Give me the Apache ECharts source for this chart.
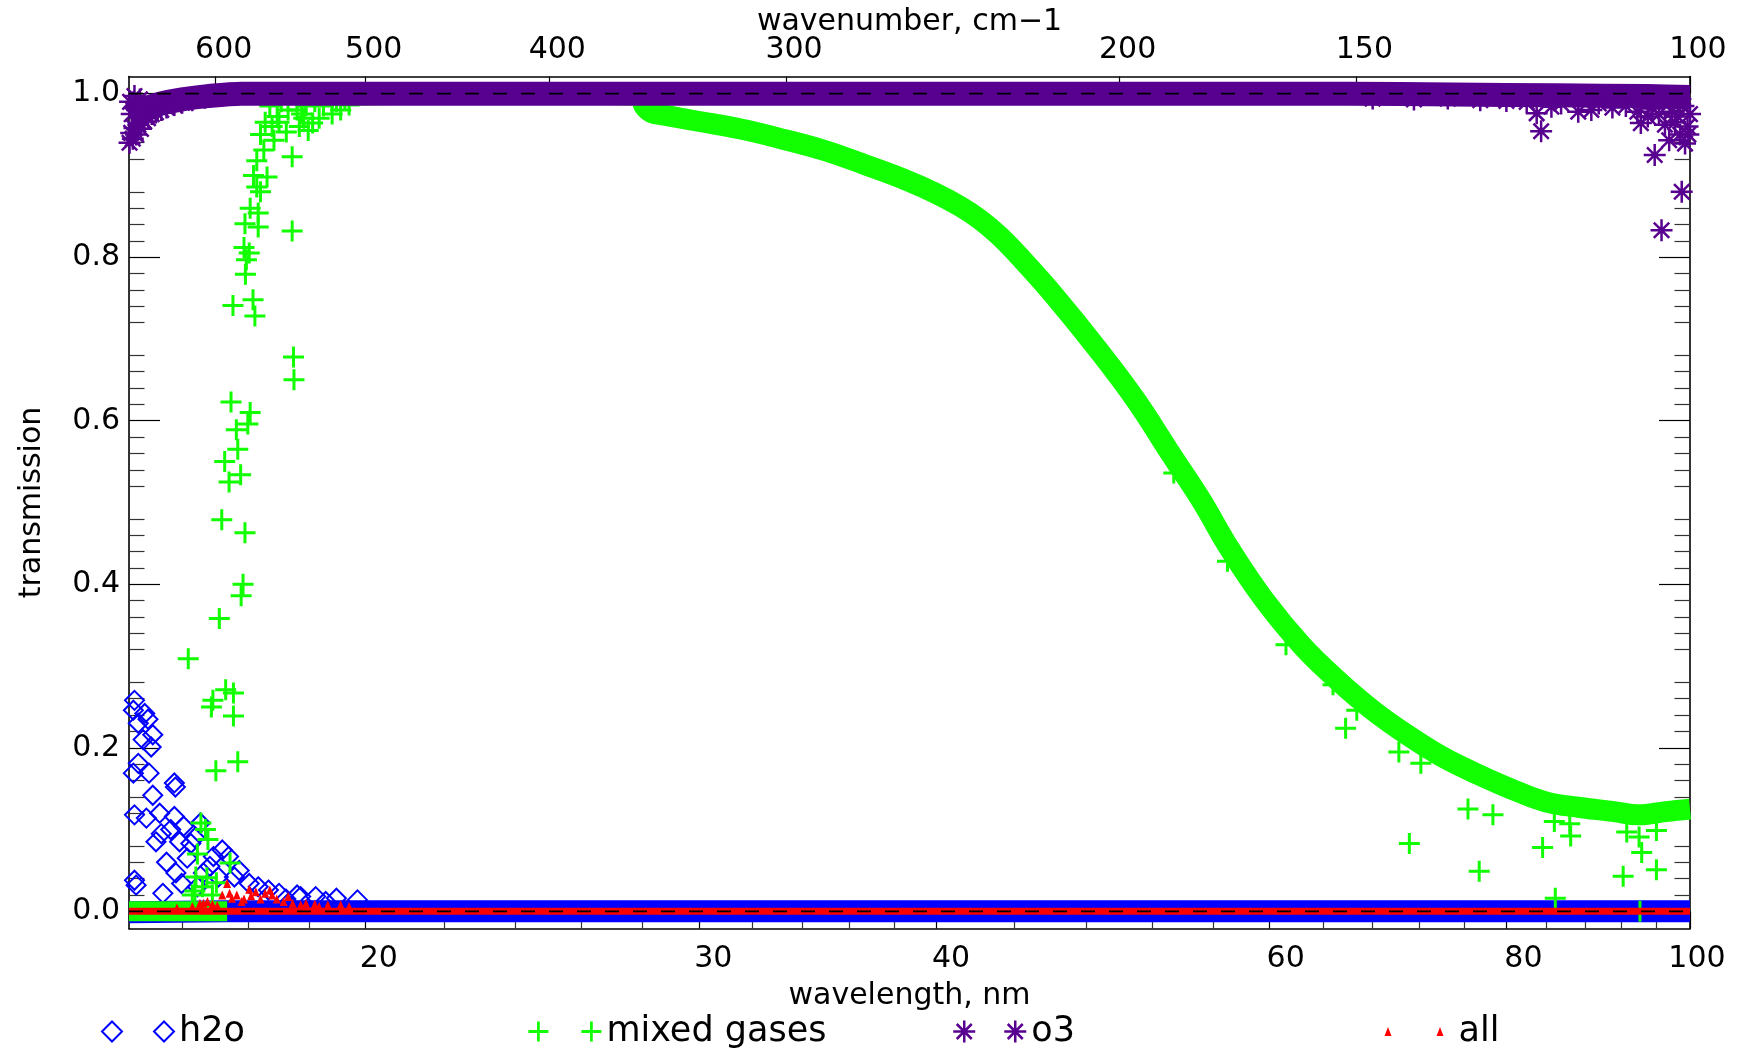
<!DOCTYPE html>
<html>
<head>
<meta charset="utf-8">
<script src="https://cdn.jsdelivr.net/npm/echarts@6/dist/echarts.min.js"></script>
<style>html,body{margin:0;padding:0;background:#fff}#chart{width:1740px;height:1055px}</style>
</head>
<body>
<div id="chart"></div>
<script>
// ---------- axis ranges and ticks ----------
const xMin = 15, xMax = 100;
const yMin = -0.021, yMax = 1.021;
const xMajorTicks = [20, 30, 40, 60, 80, 100];
const xMinorTicks = [16, 17.333, 18.667, 22, 24, 26, 28, 32, 34, 36, 38, 44, 48, 52, 56, 64, 68, 72, 76, 84, 88, 92, 96];
const wavenumberTicks = [600, 500, 400, 300, 200, 150, 100];
const yMajorTicks = [0, 0.2, 0.4, 0.6, 0.8, 1.0];
const yMinorTicks = [0.02,0.04,0.06,0.08,0.12,0.14,0.16,0.18,0.22,0.24,0.26,0.28,0.32,0.34,0.36,0.38,
  0.42,0.44,0.46,0.48,0.52,0.54,0.56,0.58,0.62,0.64,0.66,0.68,0.72,0.74,0.76,0.78,0.82,0.84,0.86,0.88,
  0.92,0.94,0.96,0.98];
const refLevels = [0, 1];

// ---------- data: [wavelength, transmission] ----------
const h2oBand = [[15.0, -0.001], [16.9, 0.0], [20, 0.0], [40, 0.0], [70, 0.0], [100, 0.0]];
const h2oPoints = [
  [15.10,0.258],[15.08,0.246],[15.29,0.242],[15.17,0.230],[15.35,0.235],[15.44,0.216],[15.26,0.210],
  [15.41,0.201],[15.17,0.181],[15.08,0.169],[15.37,0.169],[15.85,0.157],[15.87,0.152],[15.44,0.142],
  [15.10,0.118],[15.32,0.114],[15.57,0.120],[15.85,0.116],[15.78,0.100],[16.03,0.104],[15.50,0.085],
  [16.17,0.083],[16.36,0.108],[16.10,0.065],[16.62,0.067],[16.93,0.067],[15.88,0.047],[15.10,0.038],
  [15.13,0.032],[15.63,0.022],[15.99,0.034],[16.42,0.047],[16.72,0.042],[17.05,0.042],[17.36,0.034],
  [17.77,0.026],[18.00,0.022],[18.40,0.020],[18.48,0.018],[18.82,0.018],[19.30,0.016],[19.80,0.014],
  [16.25,0.090],[16.55,0.055],[16.80,0.075],[17.15,0.050],[15.70,0.060],[15.60,0.095],[15.95,0.085],
  [16.30,0.030],[17.55,0.030],[18.15,0.015],[19.05,0.012]
];
const mixedLowBand = [[15.0, 0.0], [15.5, 0.0], [16.0, 0.0], [16.5, 0.0], [16.9, 0.0]];
const mixedCurveWl  = [19.6, 22, 25, 27.9, 28.05, 28.3, 28.7, 30, 31.5, 33.0, 35.0, 36.8, 38.5, 40.0, 41.2, 42.2,
  43.2, 44.3, 46.1, 48.7, 51.0, 53.25, 55.2, 57.2, 59.6, 62.4, 65.2, 68.0, 71.0, 74.0, 77.2, 80.4, 83.9, 87.5,
  91.2, 93.9, 97.1, 100];
const mixedCurveVal = [0.998, 1.0, 1.0, 0.998, 0.985, 0.977, 0.974, 0.966, 0.957, 0.946, 0.930, 0.912, 0.895, 0.878,
  0.862, 0.846, 0.826, 0.800, 0.755, 0.687, 0.625, 0.558, 0.503, 0.442, 0.381, 0.325, 0.282, 0.246, 0.215, 0.189,
  0.168, 0.150, 0.134, 0.127, 0.122, 0.118, 0.122, 0.125];
const mixedPoints = [
  [16.12,0.309],[16.30,0.070],[16.27,0.042],[16.25,0.025],[16.37,0.108],[16.46,0.100],[16.49,0.041],[16.51,0.088],
  [16.58,0.250],[16.61,0.258],[16.67,0.172],[16.68,0.035],[16.74,0.358],[16.79,0.479],[16.85,0.550],[16.87,0.271],
  [16.94,0.525],[16.96,0.059],[16.98,0.623],[17.02,0.741],[17.03,0.267],[17.03,0.239],[17.09,0.589],[17.12,0.565],
  [17.12,0.183],[17.18,0.534],[17.19,0.386],[17.23,0.400],[17.27,0.463],[17.27,0.841],[17.25,0.812],[17.30,0.797],
  [17.28,0.779],[17.33,0.596],[17.36,0.805],[17.38,0.610],[17.38,0.860],[17.44,0.748],[17.48,0.728],[17.45,0.900],
  [17.52,0.918],[17.52,0.886],[17.55,0.837],[17.55,0.854],[17.60,0.880],[17.60,0.950],[17.67,0.931],[17.70,0.965],
  [17.74,0.898],[17.85,0.960],[17.89,0.943],[17.96,0.972],[18.05,0.990],[18.16,0.953],[18.29,0.923],[18.29,0.832],
  [18.32,0.678],[18.33,0.650],[18.40,0.980],[18.50,0.975],[18.75,0.964],[18.90,0.970],[19.20,0.975],[19.40,0.980],
  [19.60,0.986],[18.60,0.985],[18.80,0.990],[19.00,0.985],[19.30,0.990],[18.20,0.980],[18.00,0.965],[17.80,0.985],
  [19.50,0.992],[18.45,0.960],[18.65,0.955],[18.55,0.970],[16.20,0.020],[16.40,0.030],[16.60,0.020],
  [53.4,0.536],[57.0,0.428],[61.2,0.326],[64.8,0.277],[65.8,0.224],[66.7,0.246],[70.2,0.195],[71.1,0.083],
  [72.1,0.181],[76.35,0.125],[77.4,0.049],[78.7,0.118],[83.6,0.078],[84.8,0.110],[84.9,0.016],[86.4,0.107],
  [86.5,0.092],[92.2,0.043],[92.6,0.097],[94.0,0.091],[94.1,0.0],[94.3,0.072],[96.0,0.099],[96.0,0.051]
];
const o3BandWl  = [15.0, 15.3, 15.6, 16.0, 16.5, 17.2, 30, 50, 66, 75, 85, 95, 100];
const o3BandVal = [0.975, 0.982, 0.988, 0.993, 0.997, 1.0, 1.0, 1.0, 1.0, 0.999, 0.998, 0.997, 0.996];
const o3Points = [
  [15.01,0.940],[15.04,0.952],[15.07,0.945],[15.10,0.958],[15.13,0.950],[15.17,0.962],[15.22,0.957],[15.28,0.966],
  [15.35,0.970],[15.42,0.975],[15.50,0.977],[15.60,0.980],[15.70,0.983],[15.85,0.986],[16.00,0.989],[16.20,0.992],
  [16.45,0.995],[15.02,0.990],[15.10,0.997],[15.20,0.993],[15.05,0.975],[15.15,0.980],
  [68,0.994],[71.5,0.993],[74.5,0.994],[77.5,0.992],[80,0.991],[82,0.990],[83.0,0.976],[83.45,0.954],[84.5,0.984],
  [85.5,0.988],[87.3,0.978],[88.7,0.980],[89.5,0.988],[91,0.983],[92.5,0.985],[93.8,0.978],[94.2,0.964],[95.0,0.972],
  [95.5,0.982],[95.8,0.925],[96.3,0.975],[96.6,0.833],[97.0,0.962],[97.5,0.943],[97.8,0.978],[98.2,0.965],
  [98.5,0.972],[98.8,0.950],[99.0,0.880],[99.2,0.985],[99.4,0.939],[99.7,0.960],[99.8,0.950],[100,0.975]
];
const allBand = [[15.0, 0.0], [20, 0.0], [50, 0.0], [100, 0.0]];
const allPoints = [
  [16.35,0.010],[16.42,0.010],[16.70,0.007],[16.90,0.034],[16.95,0.022],[17.00,0.016],[17.20,0.012],[17.36,0.027],
  [17.40,0.019],[17.70,0.022],[17.80,0.026],[17.85,0.020],[18.10,0.012],[18.48,0.008],[18.60,0.010],[18.80,0.009],
  [19.40,0.008],[16.50,0.012],[16.60,0.009],[16.80,0.020],[17.10,0.020],[17.25,0.015],[17.50,0.024],[17.60,0.015],
  [17.95,0.015],[18.20,0.018],[18.30,0.010],[18.90,0.006],[19.10,0.008],[19.60,0.006],[16.20,0.006],[15.90,0.004]
];

// ---------- styles ----------
const FONT = 'DejaVu Sans';
const C_H2O = '#0000ff', C_MIX = '#11ff00', C_O3 = '#58008f', C_ALL = '#ff0000';
const plusPath = 'path://M0,10L20,10M10,0L10,20';
const starPath = 'path://M10,0L10,20M0,10L20,10M3,3L17,17M17,3L3,17';
const axisFont = {fontFamily: FONT, fontSize: 30, color: '#000'};
const frameLine = {show: true, onZero: false, lineStyle: {color: '#000', width: 1.6}};
const tickLine = {color: '#000', width: 1.2};
const minorLine = {color: '#333', width: 1.2};

const mixedCurve = mixedCurveWl.map((w, i) => [w, mixedCurveVal[i]]);
const o3Band = o3BandWl.map((w, i) => [w, o3BandVal[i]]);

function band(name, data, color, width, z, smooth) {
  return {type: 'line', name, data, symbol: 'none', showSymbol: false, z, silent: true, smooth: smooth || false,
    lineStyle: {color, width, cap: 'butt', join: 'round'}, itemStyle: {color},
    emphasis: {disabled: true}, animation: false, clip: true};
}
function points(name, data, symbol, size, style, z) {
  return {type: 'scatter', name, data, symbol, symbolSize: size, z, silent: true,
    itemStyle: Object.assign({opacity: 1}, style), emphasis: {disabled: true}, animation: false, clip: true};
}
const xRich = {};
const xShift = {20: 26, 30: 28, 40: 30, 60: 32, 80: 34, 100: 14};
xMajorTicks.forEach(t => { xRich['p' + t] = Object.assign({padding: [0, 0, 0, xShift[t]]}, axisFont); });
const wnPositions = wavenumberTicks.map(n => 1e4 / n);

function legendBox(left, name, icon, w, h, style, extraText) {
  return {left, top: 1014, orient: 'horizontal', padding: 0, itemWidth: w, itemHeight: h, selectedMode: false,
    textStyle: Object.assign({fontFamily: FONT, fontSize: 35, color: '#000'}, extraText || {}),
    data: [{name, icon, itemStyle: style}]};
}

const option = {
  backgroundColor: '#fff',
  animation: false,
  grid: {left: 129, right: 50, top: 76.5, bottom: 126.5, containLabel: false, outerBoundsMode: 'none'},
  legend: [
    legendBox(101, 'h2o', 'path://M0,10L10,0L20,10L10,20ZM52,10L62,0L72,10L62,20Z', 72, 20,
      {color: 'rgba(0,0,0,0)', borderColor: C_H2O, borderWidth: 2}),
    legendBox(527, 'mixed gases', 'path://M0,10L20,10M10,0L10,20M53,10L73,10M63,0L63,20', 73, 20,
      {color: 'rgba(0,0,0,0)', borderColor: C_MIX, borderWidth: 2.8}),
    legendBox(952, 'o3', 'path://M11,0L11,22M0,11L22,11M3.5,3.5L18.5,18.5M18.5,3.5L3.5,18.5M62,0L62,22M51,11L73,11M54.5,3.5L69.5,18.5M69.5,3.5L54.5,18.5', 73, 22,
      {color: 'rgba(0,0,0,0)', borderColor: C_O3, borderWidth: 2.5}),
    legendBox(1384.5, 'all', 'path://M3.5,0L7,9L0,9ZM55.5,0L59,9L52,9Z', 59, 9,
      {color: C_ALL, borderColor: C_ALL, borderWidth: 0}, {padding: [0, 0, 0, 10]})
  ],
  xAxis: [
    {type: 'log', logBase: 10, position: 'bottom', min: xMin, max: xMax, axisLine: frameLine,
      axisTick: {show: true, inside: true, length: 17, customValues: xMajorTicks, lineStyle: tickLine},
      axisLabel: {show: true, customValues: xMajorTicks, margin: 16, hideOverlap: false,
        formatter: v => { const s = String(Math.round(v)); return '{p' + s + '|' + s + '}'; }, rich: xRich},
      splitLine: {show: false}, minorTick: {show: false}, minorSplitLine: {show: false},
      name: 'wavelength, nm', nameLocation: 'middle', nameGap: 53, nameTextStyle: axisFont, nameMoveOverlap: false},
    {type: 'log', logBase: 10, position: 'bottom', min: xMin, max: xMax, axisLine: {show: false, onZero: false},
      axisTick: {show: true, inside: true, length: 8.5, customValues: xMinorTicks, lineStyle: minorLine},
      axisLabel: {show: false}, splitLine: {show: false}},
    {type: 'log', logBase: 10, position: 'top', min: xMin, max: xMax, axisLine: frameLine,
      axisTick: {show: true, inside: true, length: 17, customValues: wnPositions, lineStyle: tickLine},
      axisLabel: Object.assign({show: true, customValues: wnPositions, margin: 11, padding: [0, 0, 0, 16], hideOverlap: false,
        formatter: v => String(Math.round(1e4 / v))}, axisFont),
      splitLine: {show: false},
      name: 'wavenumber, cm\u22121', nameLocation: 'middle', nameGap: 39.5, nameTextStyle: axisFont, nameMoveOverlap: false}
  ],
  yAxis: [
    {type: 'value', position: 'left', min: yMin, max: yMax, axisLine: frameLine,
      axisTick: {show: true, inside: true, length: 31, customValues: yMajorTicks, lineStyle: tickLine},
      axisLabel: Object.assign({show: true, customValues: yMajorTicks, margin: 9, hideOverlap: false,
        formatter: v => v.toFixed(1)}, axisFont),
      splitLine: {show: false},
      name: 'transmission', nameLocation: 'middle', nameGap: 82, nameRotate: 90, nameTextStyle: axisFont, nameMoveOverlap: false},
    {type: 'value', position: 'left', min: yMin, max: yMax, axisLine: {show: false, onZero: false},
      axisTick: {show: true, inside: true, length: 15.5, customValues: yMinorTicks, lineStyle: minorLine},
      axisLabel: {show: false}, splitLine: {show: false}},
    {type: 'value', position: 'right', min: yMin, max: yMax, axisLine: frameLine,
      axisTick: {show: true, inside: true, length: 31, customValues: yMajorTicks, lineStyle: tickLine},
      axisLabel: {show: false}, splitLine: {show: false}},
    {type: 'value', position: 'right', min: yMin, max: yMax, axisLine: {show: false, onZero: false},
      axisTick: {show: true, inside: true, length: 15.5, customValues: yMinorTicks, lineStyle: minorLine},
      axisLabel: {show: false}, splitLine: {show: false}}
  ],
  series: [
    points('h2o', h2oPoints, 'diamond', 19, {color: 'rgba(0,0,0,0)', borderColor: C_H2O, borderWidth: 2}, 2),
    band('h2o band', h2oBand, C_H2O, 22, 1),
    points('mixed gases', mixedPoints, plusPath, 21, {color: 'rgba(0,0,0,0)', borderColor: C_MIX, borderWidth: 3}, 4),
    band('mixed low band', mixedLowBand, C_MIX, 20, 3),
    band('mixed curve', mixedCurve, C_MIX, 21, 3, 0.4),
    points('o3', o3Points, starPath, 22, {color: 'rgba(0,0,0,0)', borderColor: C_O3, borderWidth: 2.5}, 6),
    band('o3 band', o3Band, C_O3, 24, 5, 0.3),
    points('all', allPoints, 'triangle', [8, 9], {color: C_ALL}, 8),
    band('all band', allBand, C_ALL, 7, 7)
  ].concat(refLevels.map((lv, i) => ({
    type: 'line', name: 'ref' + i, data: [[xMin, lv], [xMax, lv]], symbol: 'none', z: 10, silent: true,
    lineStyle: {color: '#000', width: 1.8, type: [14, 14]}, animation: false
  })))
};

const chart = echarts.init(document.getElementById('chart'), null, {renderer: 'canvas'});
chart.setOption(option);
</script>
</body>
</html>
